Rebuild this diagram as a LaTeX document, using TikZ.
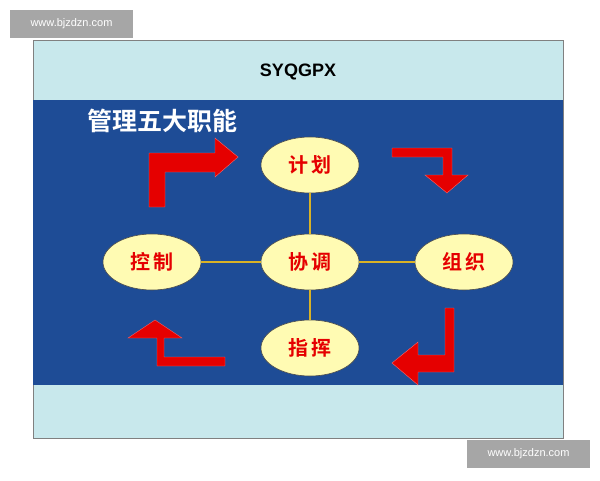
\documentclass[tikz,border=0pt]{standalone}
\usepackage{fontspec}
\setmainfont{Liberation Sans}
\newfontfamily\cjk{Noto Sans CJK SC Bold}
\begin{document}
\begin{tikzpicture}[x=1pt,y=-1pt,
  ell/.style={ellipse,draw=black!70,line width=0.6pt,fill=yellow!30!white,minimum width=98pt,minimum height=56pt,font=\cjk\fontsize{20}{20}\selectfont,text=red!90!black,inner sep=0pt},
  link/.style={draw=brown!60!yellow,line width=2.5pt},
  arr/.style={fill=red!90!black,draw=red!60!white,line width=0.4pt},
  wm/.style={fill=black!35,text=white,font=\fontsize{11}{11}\selectfont,inner sep=0pt,minimum width=123pt,minimum height=28pt}]
\usetikzlibrary{shapes.geometric}
\useasboundingbox (0,0) rectangle (600,480);
\fill[white] (0,0) rectangle (600,480);
\filldraw[fill={rgb,255:red,200;green,232;blue,236},draw=black!50] (33,40) rectangle (563,438);
\fill[fill={rgb,255:red,30;green,76;blue,150}] (33,100) rectangle (563,385);
\node[font=\bfseries\fontsize{18}{18}\selectfont] (t) at (298,72) {SYQGPX};
\node[font=\cjk\fontsize{25}{25}\selectfont,text=white] (h) at (162,121) {管理五大职能};
\node[ell] (jh) at (310,165) {计\,划};
\node[ell] (xt) at (310,262) {协\,调};
\node[ell] (kz) at (152,262) {控\,制};
\node[ell] (zz) at (464,262) {组\,织};
\node[ell] (zh) at (310,348) {指\,挥};
\draw[link] (jh) -- (xt);
\draw[link] (xt) -- (zh);
\draw[link] (kz) -- (xt);
\draw[link] (xt) -- (zz);
\filldraw[arr] (149,207)--(165,207)--(165,172)--(215,172)--(215,177)--(238,157)--(215,138)--(215,153)--(149,153)--cycle;
\filldraw[arr] (392,148)--(452,148)--(452,175)--(468,175)--(447,193)--(425,175)--(443,175)--(443,157)--(392,157)--cycle;
\filldraw[arr] (445,308)--(454,308)--(454,372)--(418,372)--(418,385)--(392,363)--(418,342)--(418,355)--(445,355)--cycle;
\filldraw[arr] (225,357)--(225,366)--(157,366)--(157,338)--(128,338)--(155,320)--(182,338)--(164,338)--(164,357)--cycle;
\node[wm] (w1) at (71.5,24) {www.bjzdzn.com};
\node[wm] (w2) at (528.5,454) {www.bjzdzn.com};
\end{tikzpicture}
\end{document}
